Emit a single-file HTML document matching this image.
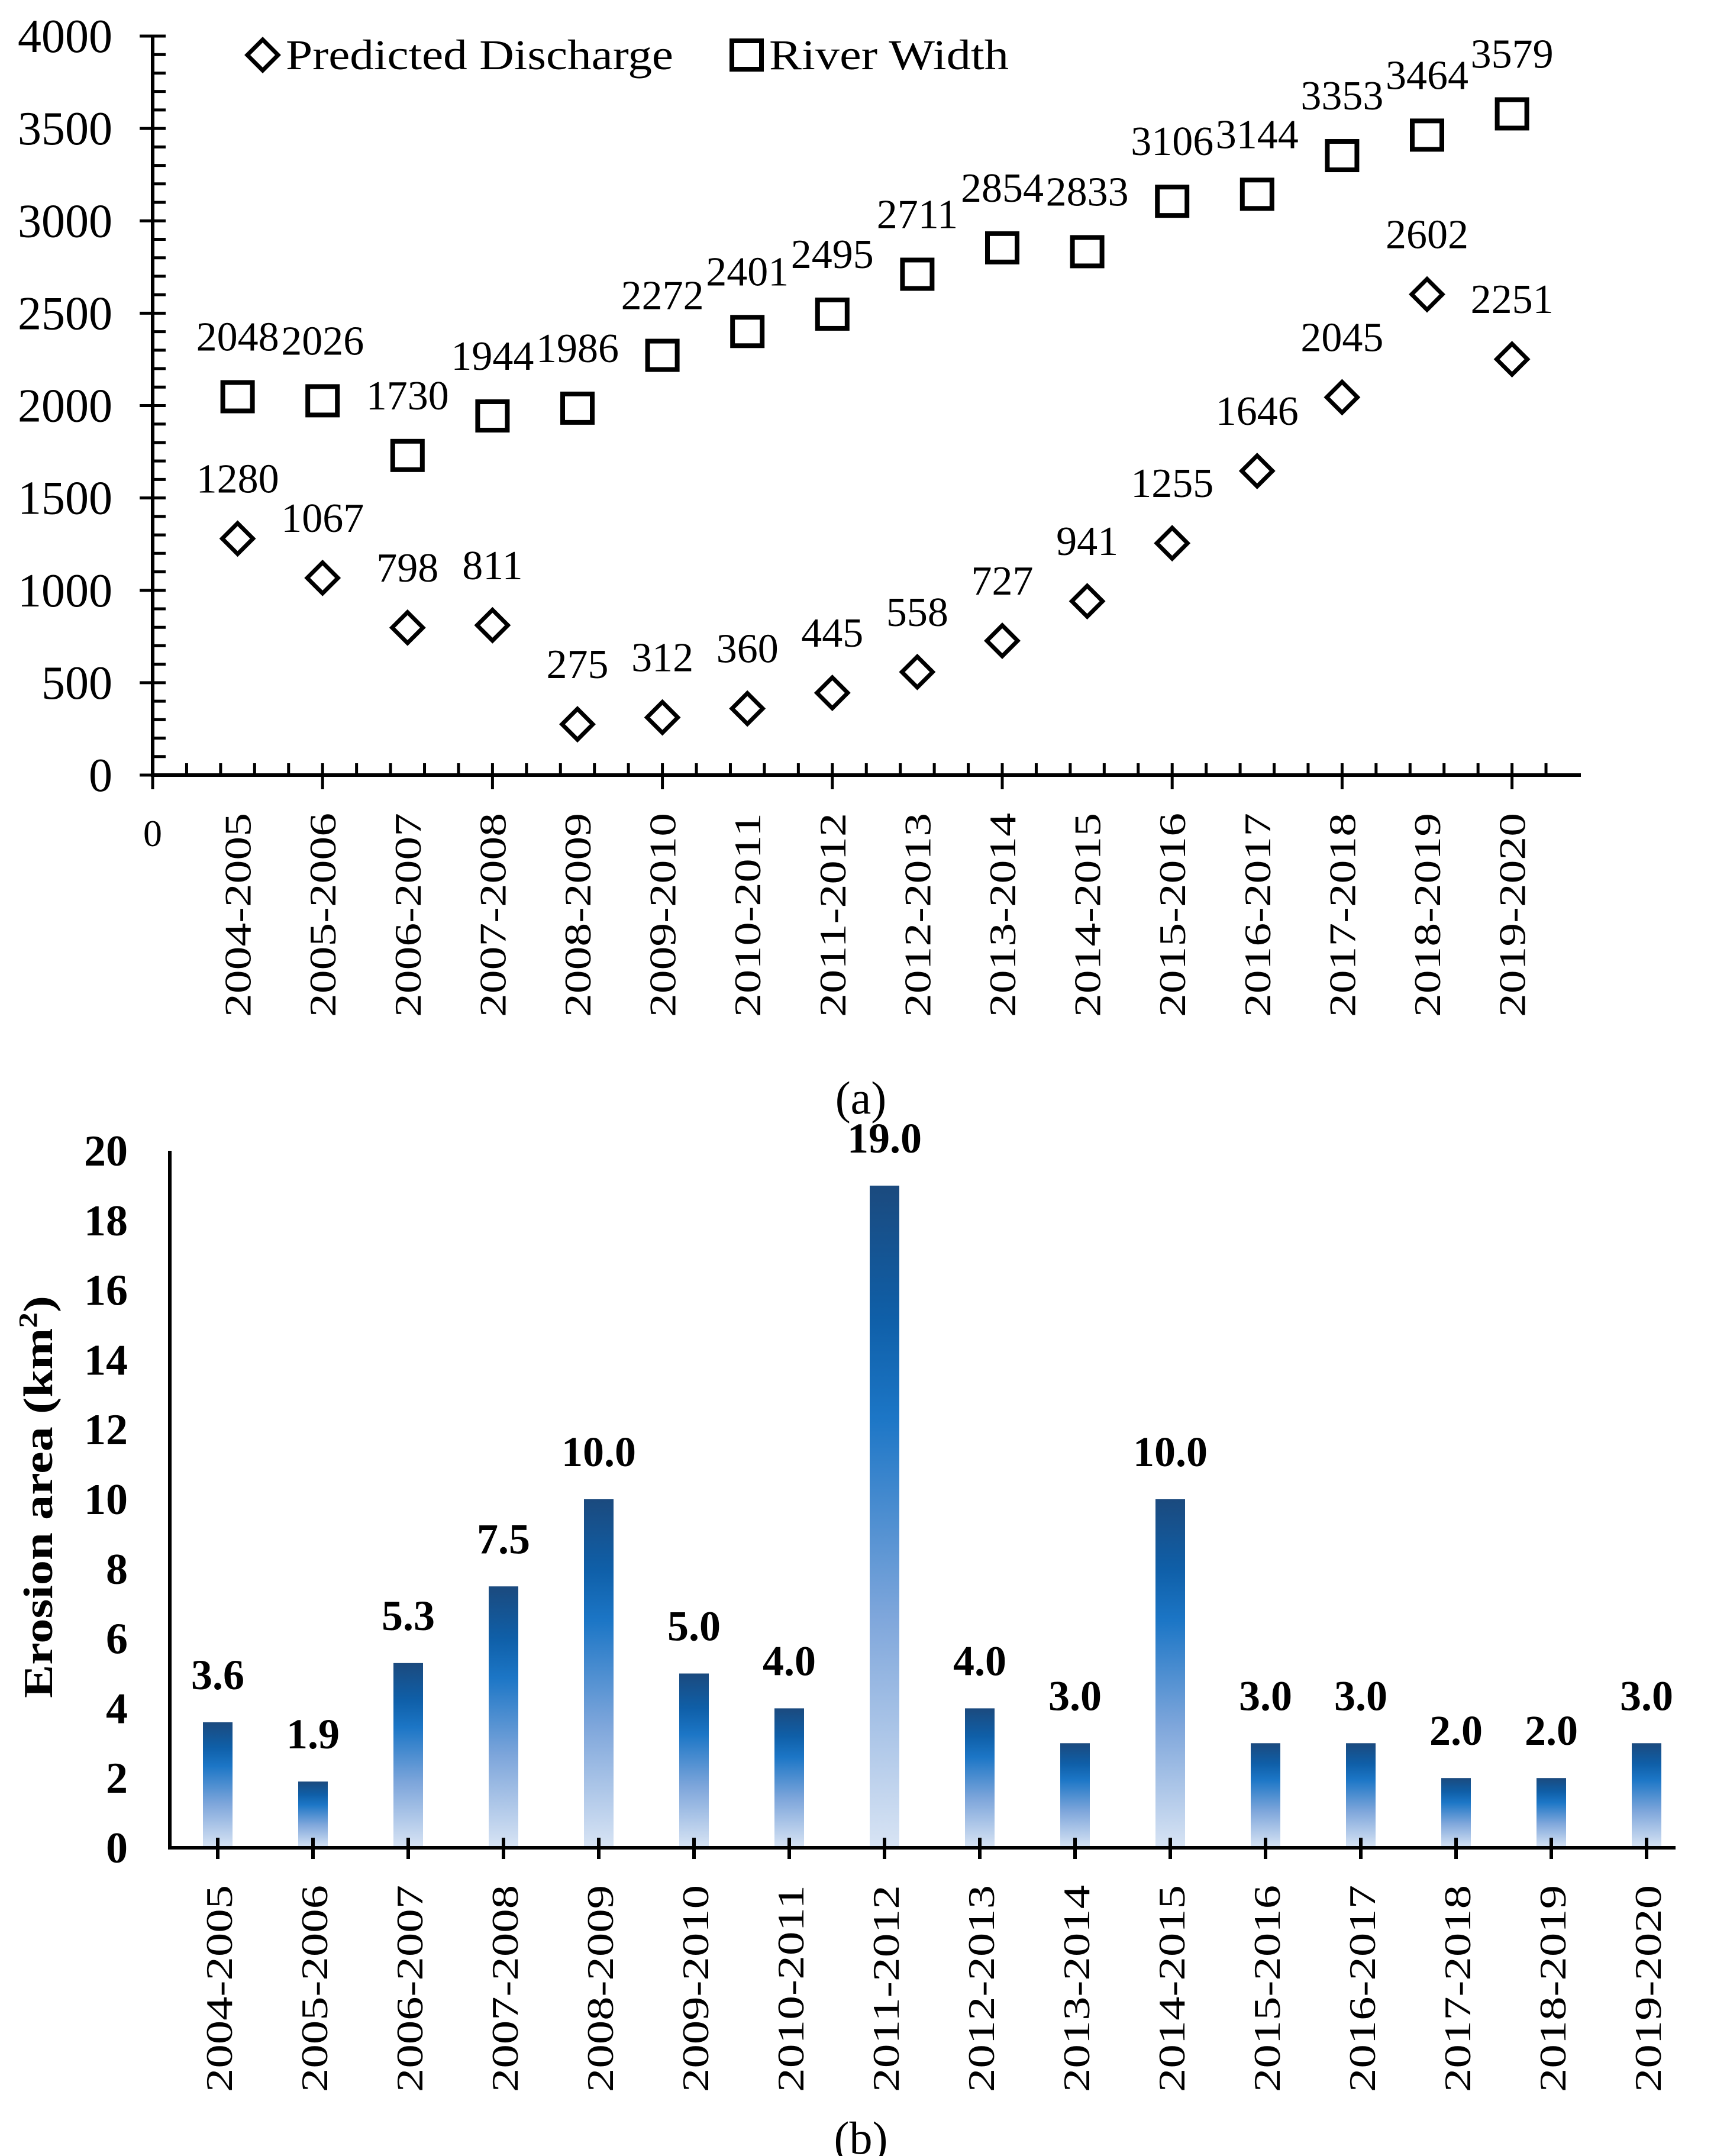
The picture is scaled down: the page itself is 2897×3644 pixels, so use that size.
<!DOCTYPE html>
<html><head><meta charset="utf-8"><style>
html,body{margin:0;padding:0;background:#fff;}
svg{display:block;font-family:"Liberation Serif",serif;}
</style></head><body>
<svg id="chart" width="2897" height="3644" viewBox="0 0 2897 3644" xmlns="http://www.w3.org/2000/svg">
<defs>
<linearGradient id="barGrad" x1="0" y1="0" x2="0" y2="1">
<stop offset="0" stop-color="#1b4a7e"/>
<stop offset="0.2" stop-color="#0f5fa8"/>
<stop offset="0.35" stop-color="#1c76c6"/>
<stop offset="0.65" stop-color="#7ea6db"/>
<stop offset="1" stop-color="#d8e4f4"/>
</linearGradient>
</defs>
<g id="top"></g>
<g id="bot"></g>
<text x="1455" y="1882" font-size="78" text-anchor="middle">(a)</text>
<text x="1455" y="3640" font-size="78" text-anchor="middle">(b)</text>
</svg>
<script>
const categories = ["2004-2005","2005-2006","2006-2007","2007-2008","2008-2009","2009-2010","2010-2011","2011-2012","2012-2013","2013-2014","2014-2015","2015-2016","2016-2017","2017-2018","2018-2019","2019-2020"];
const dischargeValues = [1280,1067,798,811,275,312,360,445,558,727,941,1255,1646,2045,2602,2251];
const widthValues = [2048,2026,1730,1944,1986,2272,2401,2495,2711,2854,2833,3106,3144,3353,3464,3579];
const topYTicks = [0,500,1000,1500,2000,2500,3000,3500,4000];
const erosionValues = [3.6,1.9,5.3,7.5,10.0,5.0,4.0,19.0,4.0,3.0,10.0,3.0,3.0,2.0,2.0,3.0];
const botYTicks = [0,2,4,6,8,10,12,14,16,18,20];

const NS = "http://www.w3.org/2000/svg";
function mk(parent, tag, attrs, text){
  const e = document.createElementNS(NS, tag);
  for (const k in attrs) e.setAttribute(k, attrs[k]);
  if (text !== undefined) e.textContent = text;
  parent.appendChild(e);
  return e;
}
// ---- top chart ----
const T = document.getElementById('top');
const tx = v => 258 + v * 143.6;
const ty = v => 1310 - v * (1249 / 4000);
let el;
el = mk(T, 'line', {x1:258, y1:ty(4000), x2:258, y2:1313, stroke:'#000','stroke-width':6});


el = mk(T, 'line', {x1:255, y1:1310, x2:2672, y2:1310, stroke:'#000','stroke-width':6});


for (let v = 0; v <= 4000; v += 100) {
  const major = v % 500 === 0;
  mk(T, 'line', {x1: major ? 236 : 258, y1: ty(v), x2: 280, y2: ty(v), stroke:'#000','stroke-width':5});
}
topYTicks.forEach(v => {
  el = mk(T, 'text', {x:190, y:ty(v)+27, 'font-size':80, 'text-anchor':'end'}, String(v));
  
  
});
for (let i = 0; i <= 42; i++) {
  const u = i * 0.4;
  const xx = tx(u);
  if (xx > 2665) break;
  const major = i % 5 === 0;
  mk(T, 'line', {x1:xx, y1:1290, x2:xx, y2: major ? 1334 : 1310, stroke:'#000','stroke-width':5});
}
el = mk(T, 'text', {x:258, y:1430, 'font-size':64, 'text-anchor':'middle'}, '0');


categories.forEach((c, i) => {
  const xx = tx(i + 1) + 22;
  el = mk(T, 'text', {x:0, y:0, 'font-size':64, 'text-anchor':'end', textLength:345, lengthAdjust:'spacingAndGlyphs', transform:`translate(${xx},1374) rotate(-90)`}, c);
  
  
});
function square(g, cx, cy){ return mk(g,'rect',{x:cx-25,y:cy-24,width:50,height:48,fill:'none',stroke:'#000','stroke-width':8}); }
function diamond(g, cx, cy){ return mk(g,'polygon',{points:`${cx-26},${cy} ${cx},${cy-26} ${cx+26},${cy} ${cx},${cy+26}`,fill:'none',stroke:'#000','stroke-width':7}); }
widthValues.forEach((v, i) => {
  el = square(T, tx(i+1), ty(v));
  
  
  el = mk(T, 'text', {x:tx(i+1), y:ty(v)-78, 'font-size':70, 'text-anchor':'middle'}, String(v));
  
  
});
dischargeValues.forEach((v, i) => {
  el = diamond(T, tx(i+1), ty(v));
  
  
  el = mk(T, 'text', {x:tx(i+1), y:ty(v)-78, 'font-size':70, 'text-anchor':'middle'}, String(v));
  
  
});
el = diamond(T, 444, 93);


el = mk(T, 'text', {x:483, y:117, 'font-size':72, textLength:655, lengthAdjust:'spacingAndGlyphs'}, 'Predicted Discharge');


el = square(T, 1262, 93);


el = mk(T, 'text', {x:1300, y:117, 'font-size':72, textLength:405, lengthAdjust:'spacingAndGlyphs'}, 'River Width');



// ---- bottom chart ----
const B = document.getElementById('bot');
const bx = i => 368 + i * 161;
const by = v => 3123 - v * 58.9;
el = mk(B, 'line', {x1:287, y1:by(20), x2:287, y2:3126, stroke:'#000','stroke-width':6});


erosionValues.forEach((v, i) => {
  el = mk(B, 'rect', {x:bx(i)-25, y:by(v), width:50, height:3123-by(v), fill:'url(#barGrad)'});
  
  
  el = mk(B, 'text', {x:bx(i), y:by(v)-56, 'font-size':72, 'font-weight':'bold', 'text-anchor':'middle'}, v.toFixed(1));
  
  
});
el = mk(B, 'line', {x1:284, y1:3123, x2:2832, y2:3123, stroke:'#000','stroke-width':6});


categories.forEach((c, i) => {
  mk(B, 'line', {x1:bx(i), y1:3106, x2:bx(i), y2:3142, stroke:'#000','stroke-width':6});
  el = mk(B, 'text', {x:0, y:0, 'font-size':64, 'text-anchor':'end', textLength:350, lengthAdjust:'spacingAndGlyphs', transform:`translate(${bx(i)+24},3186) rotate(-90)`}, c);
  
  
});
botYTicks.forEach(v => {
  el = mk(B, 'text', {x:216, y:by(v)+25, 'font-size':74, 'font-weight':'bold', 'text-anchor':'end'}, String(v));
  
  
});
el = mk(B, 'text', {x:0, y:0, 'font-size':70, 'font-weight':'bold', 'text-anchor':'middle', transform:'translate(88,2530) rotate(-90)'});


el.setAttribute('textLength', '680');
el.setAttribute('lengthAdjust', 'spacingAndGlyphs');
el.appendChild(document.createTextNode('Erosion area (km'));
mk(el, 'tspan', {'font-size':44, dy:-26}, '2');
mk(el, 'tspan', {dy:26}, ')');
</script>
</body></html>
